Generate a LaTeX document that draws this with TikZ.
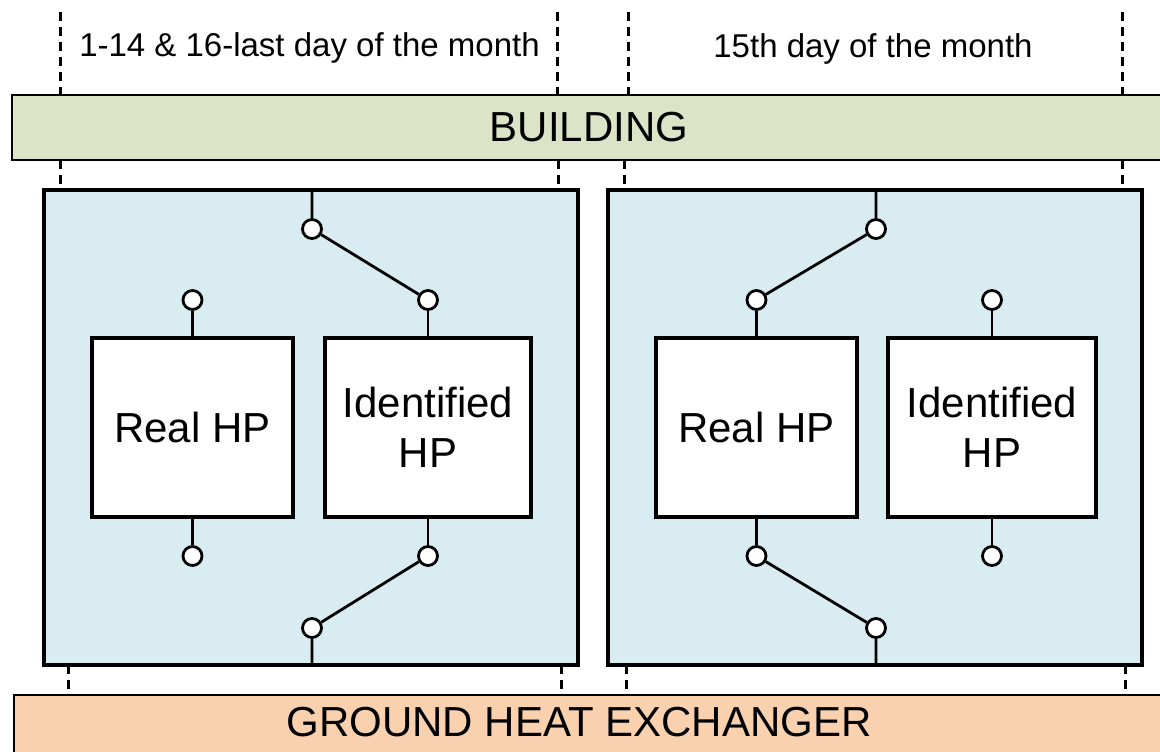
\documentclass[tikz,border=0pt]{standalone}
\usepackage{fontspec}
\setmainfont{Liberation Sans}
\definecolor{bldgreen}{HTML}{DCE3C7}
\definecolor{loopblue}{HTML}{D8ECF1}
\definecolor{ghxorange}{HTML}{FAD1AF}
\tikzset{>=stealth,
  bar/.style={draw, line width=2.8pt, minimum height=65pt, inner sep=0pt,
    font=\fontsize{42}{48}\selectfont},
  panel/.style={draw, fill=loopblue, line width=3.2pt, minimum width=534pt,
    minimum height=475pt, inner sep=0pt},
  hpbox/.style={draw, fill=white, line width=3.2pt, minimum height=179pt,
    inner sep=0pt, align=center, font=\fontsize{42}{50}\selectfont},
  port/.style={circle, draw, fill=white, line width=2.8pt, minimum size=19pt,
    inner sep=0pt},
  wire/.style={line width=2.8pt},
  period/.style={line width=3pt, dash pattern=on 9pt off 6pt},
  heading/.style={anchor=base, font=\fontsize{33}{40}\selectfont}}

\begin{document}
\begin{tikzpicture}[x=1pt,y=-1pt]
\useasboundingbox (0,0) rectangle (1160,752);
\clip (0,0) rectangle (1160,752);

\foreach \a/\b/\c in {60/60/68, 557/558/561, 628/624/626, 1122/1122/1125} {
  \draw[period] (\a,12) -- (\a,95);
  \draw[period] (\b,160) -- (\b,190);
  \draw[period] (\c,665) -- (\c,695);
}
\node[heading] (days) at (309.5,57) {1-14 \& 16-last day of the month};
\node[heading] (mid) at (873,58) {15th day of the month};

\node[bar, fill=bldgreen, minimum width=1154pt] (bldg) at (589,127.5) {BUILDING};
\node[bar, fill=ghxorange, minimum width=1152pt] (ghx) at (590,727.5) {};
\node[font=\fontsize{42}{48}\selectfont] (ghxtext) at (579,722.5) {GROUND HEAT EXCHANGER};

% normal operation
\node[panel] (lp) at (311,427.5) {};
\node[hpbox, minimum width=201pt] (rhp1) at (192.5,427.5) {Real HP};
\node[hpbox, minimum width=206pt] (ihp1) at (428,427.5) {Identified\\HP};
\node[port] (p1) at (192.5,300) {};
\node[port] (p2) at (428,300) {};
\node[port] (p3) at (192.5,556) {};
\node[port] (p4) at (428,556) {};
\node[port] (s1) at (312,229) {};
\node[port] (s2) at (312,628) {};
\draw[wire] (p1) -- (rhp1);
\draw[wire] (p2) -- (ihp1);
\draw[wire] (p3) -- (rhp1);
\draw[wire] (p4) -- (ihp1);
\draw[wire] (lp.north -| s1) -- (s1) -- (p2);
\draw[wire] (lp.south -| s2) -- (s2) -- (p4);

% identification day
\node[panel] (rp) at (875,427.5) {};
\node[hpbox, minimum width=201pt] (rhp2) at (756.5,427.5) {Real HP};
\node[hpbox, minimum width=208pt] (ihp2) at (992,427.5) {Identified\\HP};
\node[port] (p5) at (756.5,300) {};
\node[port] (p6) at (992,300) {};
\node[port] (p7) at (756.5,556) {};
\node[port] (p8) at (992,556) {};
\node[port] (s3) at (876,229) {};
\node[port] (s4) at (876,628) {};
\draw[wire] (p5) -- (rhp2);
\draw[wire] (p6) -- (ihp2);
\draw[wire] (p7) -- (rhp2);
\draw[wire] (p8) -- (ihp2);
\draw[wire] (rp.north -| s3) -- (s3) -- (p5);
\draw[wire] (rp.south -| s4) -- (s4) -- (p7);
\end{tikzpicture}
\end{document}
